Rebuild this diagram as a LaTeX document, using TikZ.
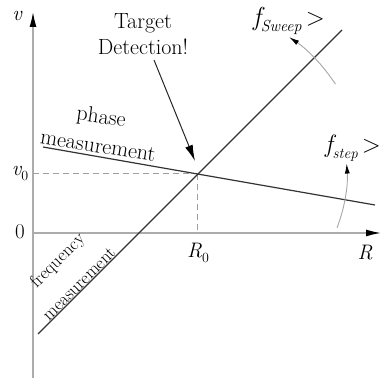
\documentclass[tikz,border=0pt]{standalone}
\usetikzlibrary{arrows.meta}
\newcommand{\lbsize}{\fontsize{21}{25}\selectfont}
\newcommand{\subsz}{\fontsize{14}{14}\selectfont}
\begin{document}
\begin{tikzpicture}[x=1pt,y=1pt,
  axisline/.style={draw=gray!65, line width=1.4pt, -{Latex[length=15pt,width=7pt,color=black]}},
  mainline/.style={draw=black!80, line width=1.2pt},
  guide/.style={draw=gray!75, line width=1pt, dash pattern=on 6pt off 4pt},
  sweeparc/.style={draw=gray!70, line width=0.9pt, -{Latex[length=10pt,width=5pt,color=black]}},
  lbl/.style={font=\lbsize, inner sep=0pt},
  bigl/.style={font=\fontsize{22}{26}\selectfont, inner sep=0pt, align=center},
  smalll/.style={font=\fontsize{18}{20}\selectfont, inner sep=0pt}]
\useasboundingbox (0,0) rectangle (384,380);
% axes
\coordinate (O) at (33,147);
\coordinate (Ybot) at (33,2);
\coordinate (Ytop) at (33,368);
\coordinate (Xend) at (381,147);
\draw[draw=gray!65, line width=1.4pt] (Ybot) -- (O);
\draw[axisline] (O) -- (Ytop);
\draw[axisline] (O) -- (Xend);
% intersection and guides
\coordinate (P) at (197,206);
\coordinate (Pv) at (33,206);
\coordinate (Pr) at (197,147);
\draw[guide] (Pv) -- (P);
\draw[guide] (P) -- (Pr);
% frequency line
\coordinate (F1) at (38,46);
\coordinate (F2) at (342,350);
\draw[mainline] (F1) -- (F2);
% phase line
\coordinate (Ph1) at (43,233);
\coordinate (Ph2) at (375,175);
\draw[mainline] (Ph1) -- (Ph2);
% labels
\node[lbl] (v) at (17,364) {\itshape v};
\node[lbl] (v0) at (20,206) {{\itshape v}\raisebox{-5pt}{\subsz 0}};
\node[lbl] (zero) at (20,148) {0};
\node[lbl] (R0) at (198,127) {{\itshape R}\raisebox{-5pt}{\subsz 0}};
\node[lbl] (R) at (365,127) {\itshape R};
\node[bigl] (target) at (143,346) {Target\\Detection!};
\coordinate (Tstart) at (154,320);
\coordinate (Ttip) at (195,219);
\draw[black!85, line width=1pt, -{Latex[length=16pt,width=8pt,color=black]}] (Tstart) -- (Ttip);
\node[bigl, rotate=-8] (phase) at (101,262) {phase};
\node[bigl, rotate=-9] (meas1) at (98,234) {measurement};
\node[smalll, rotate=45] (freq) at (58,119) {frequency};
\node[smalll, rotate=45] (meas2) at (79,96) {measurement};
% sweep labels
\node[inner sep=0pt] (fsweep) at (289,359) {\fontsize{26}{26}\selectfont\itshape f\raisebox{-6pt}{\fontsize{16}{16}\selectfont Sweep}\,\upshape $>$};
\node[inner sep=0pt] (fstep) at (353,232) {\fontsize{25}{25}\selectfont\itshape f\raisebox{-6pt}{\fontsize{15}{15}\selectfont step}\,\upshape $>$};
% arcs centered on P
\draw[sweeparc] (P) ++(33:165) arc[start angle=33, end angle=56, radius=165];
\draw[sweeparc] (P) ++(-21:150) arc[start angle=-21, end angle=4, radius=150];
\end{tikzpicture}
\end{document}
